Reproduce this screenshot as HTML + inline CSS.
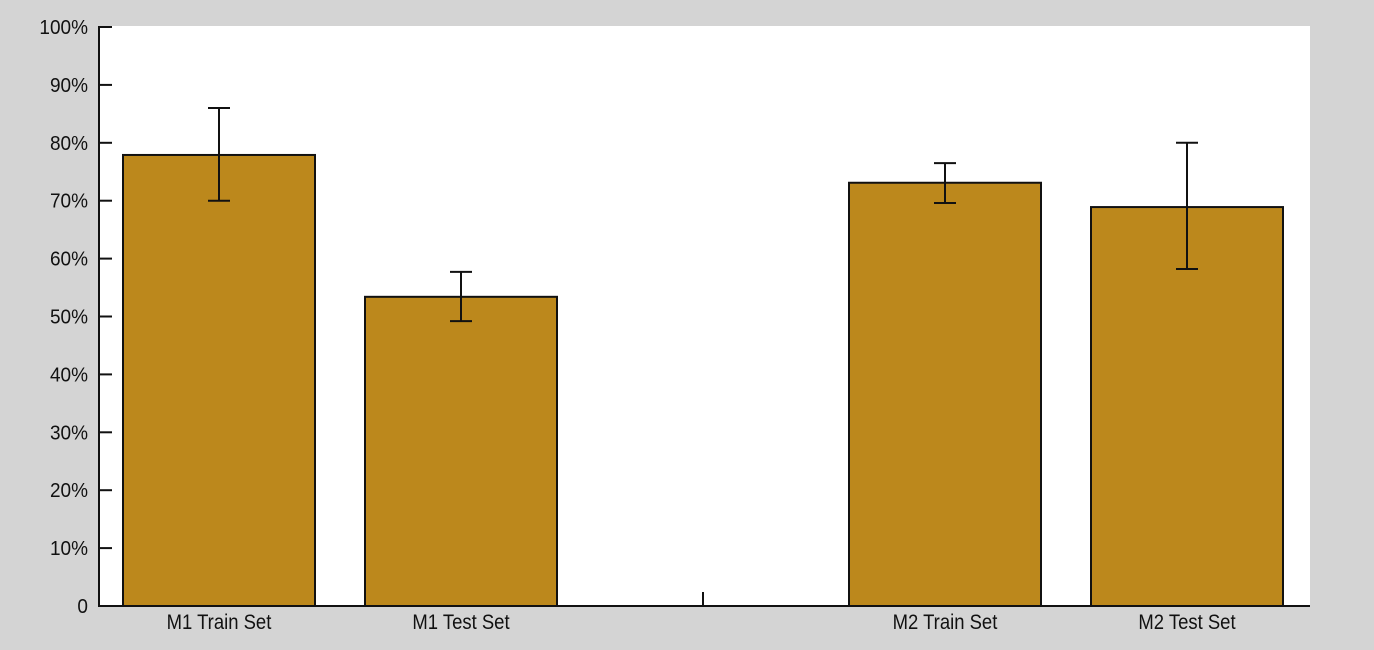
<!DOCTYPE html>
<html><head><meta charset="utf-8"><style>
html,body{margin:0;padding:0;background:#d4d4d4;}
svg{display:block;font-family:"Liberation Sans",sans-serif;}
</style></head><body>
<svg width="1374" height="650">
<rect x="99" y="26" width="1211" height="580" fill="#fff"/>
<g id="g"></g>
</svg>
<script>
const categories=["M1 Train Set","M1 Test Set","","M2 Train Set","M2 Test Set"];
const values=[77.9,53.4,null,73.1,68.9];
const errLow=[70,49.2,null,69.6,58.2];
const errHigh=[86,57.7,null,76.5,80];
const yTicks=[0,10,20,30,40,50,60,70,80,90,100];
const yTickLabels=["0","10%","20%","30%","40%","50%","60%","70%","80%","90%","100%"];
const X0=98,slot=242,Y0=606,Y1=27,bw=192;
const y=v=>Y0-(v/100)*(Y0-Y1);
const xc=i=>X0+slot*(i+0.5);
const g=document.getElementById('g');
const NS='http://www.w3.org/2000/svg';
function mk(t,a){const e=document.createElementNS(NS,t);for(const k in a)e.setAttribute(k,a[k]);g.appendChild(e);return e;}
categories.forEach((c,i)=>{
  if(values[i]!=null){
    const r=mk('rect',{x:xc(i)-bw/2,y:y(values[i]),width:bw,height:Y0-y(values[i]),fill:'#bc881c',stroke:'#111','stroke-width':2});
    
    
    const e=mk('path',{d:`M${xc(i)} ${y(errLow[i])}V${y(errHigh[i])}M${xc(i)-11} ${y(errLow[i])}h22M${xc(i)-11} ${y(errHigh[i])}h22`,stroke:'#111','stroke-width':2,fill:'none'});
    
    
    const t=mk('text',{x:xc(i),y:629,'text-anchor':'middle','font-size':21,transform:`translate(${xc(i)} 0) scale(0.88 1) translate(${-xc(i)} 0)`,fill:'#111'});
    t.textContent=c;
    
    
  } else {
    const tk=mk('line',{x1:xc(i),x2:xc(i),y1:592,y2:606,stroke:'#111','stroke-width':2});
    
    
  }
});
yTicks.forEach((v,i)=>{
  const l=mk('line',{x1:99,x2:112,y1:y(v),y2:y(v),stroke:'#111','stroke-width':2});
  
  
  const t=mk('text',{x:88,y:y(v)+7,'text-anchor':'end','font-size':20,fill:'#111',transform:`translate(88 0) scale(0.95 1) translate(-88 0)`});
  t.textContent=yTickLabels[i];
  
  
});
const ax=mk('path',{d:'M99 26V606H1310',stroke:'#111','stroke-width':2,fill:'none'});


</script>
</body></html>
